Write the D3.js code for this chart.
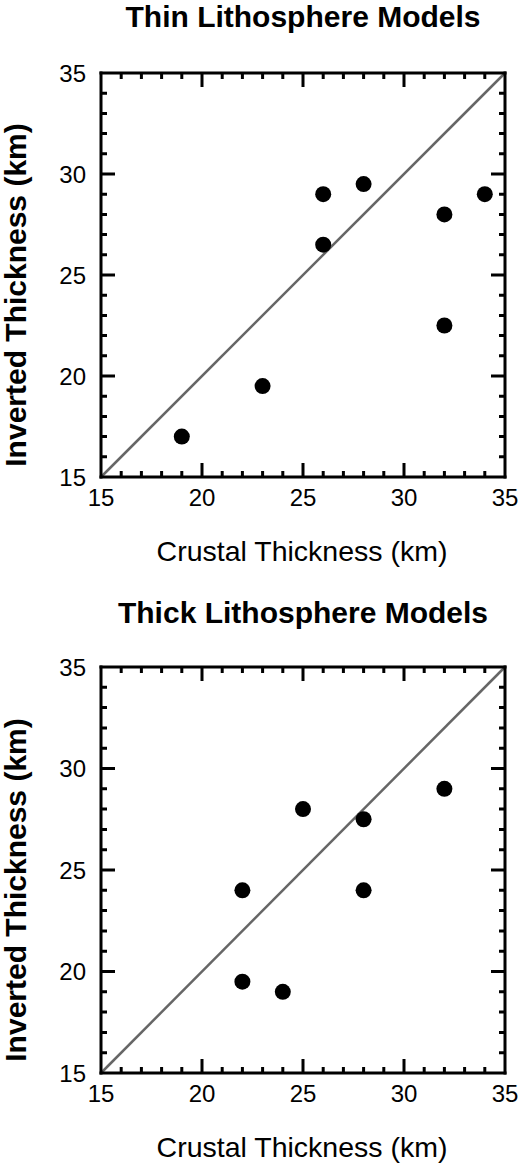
<!DOCTYPE html>
<html lang="en">
<head>
    <meta charset="UTF-8"/>
    <title>Thin and Thick Lithosphere Models</title>
    <script src="https://d3js.org/d3.v7.min.js"></script>
    <style>
        body { margin: 0; background: #fff; }
    </style>
</head>
<body>
    <script>
        // data
        var thinX = [19, 23, 26, 26, 28, 32, 32, 34];
        var thinY = [17, 19.5, 26.5, 29, 29.5, 28, 22.5, 29];
        var thickX = [22, 22, 24, 25, 28, 28, 32];
        var thickY = [24, 19.5, 19, 28, 27.5, 24, 29];
        var majorTicks = [15, 20, 25, 30, 35];
        var tickLabels = ["15", "20", "25", "30", "35"];
        var titles = ["Thin Lithosphere Models", "Thick Lithosphere Models"];

        var w = 520;
        var h = 1167;
        var left = 101, right = 505;
        var font = "Liberation Sans, Arial, sans-serif";

        var svg = d3.select("body")
                    .append("svg")
                    .attr("width", w)
                    .attr("height", h);

        // one frame edge with its inward ticks as a comb-shaped polyline
        function comb(pos, fixed, dir, vertical) {
            var pts = [];
            d3.range(15, 36).forEach(function(v) {
                var len = (v % 5 == 0 && v != 15 && v != 35) ? 14 : (v % 5 == 0 ? 0 : 6);
                var a = pos(v);
                if (vertical) {
                    pts.push([fixed, a], [fixed + dir * len, a], [fixed, a]);
                } else {
                    pts.push([a, fixed], [a, fixed + dir * len], [a, fixed]);
                }
            });
            return d3.line()(pts);
        }

        function drawPanel(title, xs, ys, top, bottom, titleY) {
            var xScale = d3.scaleLinear().domain([15, 35]).range([left, right]);
            var yScale = d3.scaleLinear().domain([15, 35]).range([bottom, top]);
            var g = svg.append("g");

            // title
            g.append("text")
                .attr("x", (left + right) / 2)
                .attr("y", titleY)
                .attr("text-anchor", "middle")
                .attr("font-family", font)
                .attr("font-size", 30)
                .attr("font-weight", "bold")
                .text(title);

            // 1:1 line
            g.append("line")
                .attr("x1", xScale(15)).attr("y1", yScale(15))
                .attr("x2", xScale(35)).attr("y2", yScale(35))
                .attr("stroke", "#666")
                .attr("stroke-width", 2.5);

            // points
            g.selectAll("circle")
                .data(xs)
                .enter()
                .append("circle")
                .attr("cx", function(d) { return xScale(d); })
                .attr("cy", function(d, i) { return yScale(ys[i]); })
                .attr("r", 8)
                .attr("fill", "#000");

            // frame edges with ticks
            var edges = [
                comb(xScale, bottom, -1, false),
                comb(xScale, top, 1, false),
                comb(yScale, left, 1, true),
                comb(yScale, right, -1, true)
            ];
            g.selectAll("path.edge")
                .data(edges)
                .enter()
                .append("path")
                .attr("class", "edge")
                .attr("d", function(d) { return d; })
                .attr("fill", "none")
                .attr("stroke", "#000")
                .attr("stroke-width", 3)
                .attr("stroke-linecap", "square");

            // tick labels
            g.append("g").selectAll("text")
                .data(majorTicks)
                .enter()
                .append("text")
                .attr("x", function(d) { return xScale(d); })
                .attr("y", bottom + 29)
                .attr("text-anchor", "middle")
                .attr("font-family", font)
                .attr("font-size", 24)
                .text(function(d, i) { return tickLabels[i]; });

            g.append("g").selectAll("text")
                .data(majorTicks)
                .enter()
                .append("text")
                .attr("x", left - 15)
                .attr("y", function(d) { return yScale(d) + 8.5; })
                .attr("text-anchor", "end")
                .attr("font-family", font)
                .attr("font-size", 24)
                .text(function(d, i) { return tickLabels[i]; });

            // axis labels
            g.append("text")
                .attr("x", 302)
                .attr("y", bottom + 84)
                .attr("text-anchor", "middle")
                .attr("font-family", font)
                .attr("font-size", 28.5)
                .text("Crustal Thickness (km)");

            g.append("text")
                .attr("text-anchor", "middle")
                .attr("transform", "translate(26," + ((top + bottom) / 2 + 20) + ") rotate(-90)")
                .attr("font-family", font)
                .attr("font-size", 30)
                .attr("font-weight", "bold")
                .text("Inverted Thickness (km)");
        }

        drawPanel(titles[0], thinX, thinY, 73, 477, 27);
        drawPanel(titles[1], thickX, thickY, 667, 1073, 623);
    </script>
</body>
</html>
